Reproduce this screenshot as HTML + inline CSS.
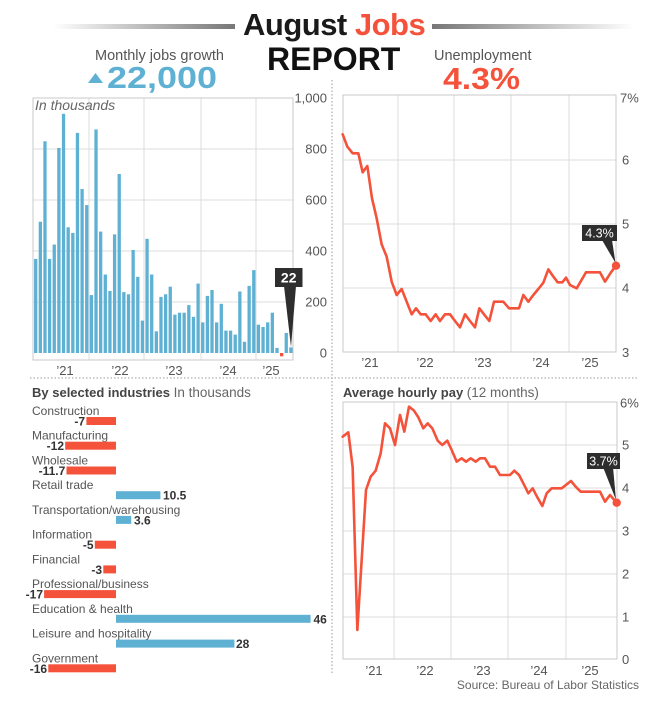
<!DOCTYPE html>
<html>
<head>
<meta charset="utf-8">
<style>
  html,body{margin:0;padding:0;background:#fff;}
  svg{display:block;font-family:"Liberation Sans", Arial, sans-serif;}
  .tick{font-size:13px;fill:#555;}
  .ind{font-size:12px;fill:#555;}
  .val{font-size:12px;fill:#333;font-weight:bold;}
</style>
</head>
<body>
<svg width="647" height="705" viewBox="0 0 647 705" xmlns="http://www.w3.org/2000/svg">
  <defs>
    <linearGradient id="gl" x1="0" x2="1" y1="0" y2="0">
      <stop offset="0" stop-color="#ffffff"/>
      <stop offset="1" stop-color="#777777"/>
    </linearGradient>
    <linearGradient id="gr" x1="0" x2="1" y1="0" y2="0">
      <stop offset="0" stop-color="#777777"/>
      <stop offset="1" stop-color="#ffffff"/>
    </linearGradient>
  </defs>
  <rect x="0" y="0" width="647" height="705" fill="#fff"/>

  <!-- Header -->
  <rect x="53" y="24" width="182" height="5" fill="url(#gl)"/>
  <rect x="432" y="24" width="202" height="5" fill="url(#gr)"/>
  <text x="243" y="35" font-size="31" font-weight="bold" fill="#1a1a1a" letter-spacing="-0.5">August <tspan fill="#f4523b">Jobs</tspan></text>
  <text x="267" y="70" font-size="32" font-weight="bold" fill="#111">REPORT</text>
  <text x="95" y="60" font-size="14.5" fill="#555">Monthly jobs growth</text>
  <polygon points="88,83 103,83 95.5,73" fill="#5fb1d4"/>
  <text x="107" y="88" font-size="31" font-weight="bold" fill="#5fb1d4" textLength="110" lengthAdjust="spacingAndGlyphs">22,000</text>
  <text x="434" y="60" font-size="14.5" fill="#555">Unemployment</text>
  <text x="443" y="89" font-size="31" font-weight="bold" fill="#f4523b" textLength="77" lengthAdjust="spacingAndGlyphs">4.3%</text>

  <!-- Dotted separators -->
  <line x1="332" y1="80" x2="332" y2="675" stroke="#999" stroke-width="1" stroke-dasharray="1.5 2"/>
  <line x1="30" y1="378" x2="637" y2="378" stroke="#999" stroke-width="1" stroke-dasharray="1.5 2"/>

  <!-- ============ Bar chart (monthly jobs) ============ -->
  <g stroke="#dcdcdc" stroke-width="1">
    <line x1="33" y1="149" x2="293" y2="149"/>
    <line x1="33" y1="200" x2="293" y2="200"/>
    <line x1="33" y1="251" x2="293" y2="251"/>
    <line x1="33" y1="302" x2="293" y2="302"/>
    <line x1="89" y1="98" x2="89" y2="360"/>
    <line x1="144" y1="98" x2="144" y2="360"/>
    <line x1="201" y1="98" x2="201" y2="360"/>
    <line x1="256" y1="98" x2="256" y2="360"/>
  </g>
  <rect x="33" y="98" width="260" height="262" fill="none" stroke="#c8c8c8" stroke-width="1"/>
  <text x="35" y="110" font-size="14" font-style="italic" fill="#666">In thousands</text>
  <g fill="#5fb1d4">
    <rect x="34.05" y="258.9" width="3.3" height="94.1"/>
    <rect x="38.69" y="221.7" width="3.3" height="131.3"/>
    <rect x="43.33" y="141.3" width="3.3" height="211.7"/>
    <rect x="47.97" y="258.9" width="3.3" height="94.1"/>
    <rect x="52.61" y="244.6" width="3.3" height="108.4"/>
    <rect x="57.25" y="148.0" width="3.3" height="205.0"/>
    <rect x="61.89" y="113.8" width="3.3" height="239.2"/>
    <rect x="66.53" y="227.3" width="3.3" height="125.7"/>
    <rect x="71.17" y="232.9" width="3.3" height="120.1"/>
    <rect x="75.81" y="132.9" width="3.3" height="220.1"/>
    <rect x="80.45" y="189.0" width="3.3" height="164.0"/>
    <rect x="85.09" y="205.1" width="3.3" height="147.9"/>
    <rect x="89.73" y="295.1" width="3.3" height="57.9"/>
    <rect x="94.37" y="129.4" width="3.3" height="223.6"/>
    <rect x="99.01" y="231.6" width="3.3" height="121.4"/>
    <rect x="103.65" y="274.5" width="3.3" height="78.5"/>
    <rect x="108.29" y="291.0" width="3.3" height="62.0"/>
    <rect x="112.93" y="234.4" width="3.3" height="118.6"/>
    <rect x="117.57" y="174.0" width="3.3" height="179.0"/>
    <rect x="122.21" y="292.1" width="3.3" height="60.9"/>
    <rect x="126.85" y="294.3" width="3.3" height="58.7"/>
    <rect x="131.49" y="250.0" width="3.3" height="103.0"/>
    <rect x="136.13" y="276.8" width="3.3" height="76.2"/>
    <rect x="140.77" y="320.6" width="3.3" height="32.4"/>
    <rect x="145.41" y="238.8" width="3.3" height="114.2"/>
    <rect x="150.05" y="274.5" width="3.3" height="78.5"/>
    <rect x="154.69" y="331.3" width="3.3" height="21.7"/>
    <rect x="159.33" y="296.9" width="3.3" height="56.1"/>
    <rect x="163.97" y="294.3" width="3.3" height="58.7"/>
    <rect x="168.61" y="286.7" width="3.3" height="66.3"/>
    <rect x="173.25" y="314.7" width="3.3" height="38.3"/>
    <rect x="177.89" y="312.7" width="3.3" height="40.3"/>
    <rect x="182.53" y="312.7" width="3.3" height="40.3"/>
    <rect x="187.17" y="305.1" width="3.3" height="47.9"/>
    <rect x="191.81" y="316.8" width="3.3" height="36.2"/>
    <rect x="196.45" y="283.6" width="3.3" height="69.4"/>
    <rect x="201.09" y="322.4" width="3.3" height="30.6"/>
    <rect x="205.73" y="295.9" width="3.3" height="57.1"/>
    <rect x="210.37" y="290.0" width="3.3" height="63.0"/>
    <rect x="215.01" y="322.4" width="3.3" height="30.6"/>
    <rect x="219.65" y="303.8" width="3.3" height="49.2"/>
    <rect x="224.29" y="330.6" width="3.3" height="22.4"/>
    <rect x="228.93" y="330.6" width="3.3" height="22.4"/>
    <rect x="233.57" y="334.6" width="3.3" height="18.4"/>
    <rect x="238.21" y="291.5" width="3.3" height="61.5"/>
    <rect x="242.85" y="341.8" width="3.3" height="11.2"/>
    <rect x="247.49" y="285.9" width="3.3" height="67.1"/>
    <rect x="252.13" y="270.1" width="3.3" height="82.9"/>
    <rect x="256.77" y="324.7" width="3.3" height="28.3"/>
    <rect x="261.41" y="327.0" width="3.3" height="26.0"/>
    <rect x="266.05" y="322.4" width="3.3" height="30.6"/>
    <rect x="270.69" y="312.7" width="3.3" height="40.3"/>
    <rect x="275.33" y="347.9" width="3.3" height="5.1"/>
    <rect x="284.61" y="332.9" width="3.3" height="20.1"/>
    <rect x="289.25" y="347.4" width="3.3" height="5.6"/>
  </g>
  <rect x="279.97" y="353" width="3.3" height="3.3" fill="#f4523b"/>
  <!-- callout 22 -->
  <polygon points="284,286 296,286 291,347" fill="#2e2e2e"/>
  <rect x="275" y="268" width="27.5" height="19" fill="#2e2e2e"/>
  <text x="288.7" y="282.5" font-size="14" font-weight="bold" fill="#fff" text-anchor="middle">22</text>
  <!-- y labels -->
  <g class="tick" text-anchor="end">
    <text x="327" y="102.5">1,000</text>
    <text x="327" y="153.5">800</text>
    <text x="327" y="204.5">600</text>
    <text x="327" y="255.5">400</text>
    <text x="327" y="306.5">200</text>
    <text x="327" y="357.5">0</text>
  </g>
  <g class="tick" text-anchor="middle">
    <text x="65" y="375">’21</text>
    <text x="120" y="375">’22</text>
    <text x="174" y="375">’23</text>
    <text x="228" y="375">’24</text>
    <text x="271" y="375">’25</text>
  </g>

  <!-- ============ Unemployment chart ============ -->
  <g stroke="#dcdcdc" stroke-width="1">
    <line x1="343" y1="160" x2="616" y2="160"/>
    <line x1="343" y1="224" x2="616" y2="224"/>
    <line x1="343" y1="288" x2="616" y2="288"/>
    <line x1="398" y1="95" x2="398" y2="352"/>
    <line x1="454" y1="95" x2="454" y2="352"/>
    <line x1="511" y1="95" x2="511" y2="352"/>
    <line x1="569" y1="95" x2="569" y2="352"/>
  </g>
  <rect x="343" y="95" width="273" height="257" fill="none" stroke="#c8c8c8" stroke-width="1"/>
  <g transform="translate(330 85) scale(0.333333)">
    <polyline fill="none" stroke="#f4523b" stroke-width="2.6" vector-effect="non-scaling-stroke" stroke-linejoin="round" stroke-linecap="round"
      points="38,148 52,185 68,205 85,205 98,262 112,243 126,340 140,400 155,478 170,515 185,590 200,630 215,612 230,650 245,688 258,670 272,688 287,688 302,708 317,688 330,708 345,688 360,688 375,708 390,727 405,688 420,708 435,727 448,670 462,688 478,708 492,650 520,650 537,670 567,670 580,630 595,650 610,630 625,612 640,593 655,553 668,572 683,592 697,592 708,578 720,600 740,610 768,562 810,562 825,590 843,562 858,542"/>
  </g>
  <polygon points="602,240 612,240 615.5,263" fill="#2e2e2e"/>
  <rect x="582" y="225" width="35" height="16" fill="#2e2e2e"/>
  <text x="599.5" y="237.5" font-size="12.5" fill="#fff" text-anchor="middle">4.3%</text>
  <circle cx="616" cy="265.7" r="4.2" fill="#f4523b"/>
  <g class="tick">
    <text x="620" y="102.5">7%</text>
    <text x="622" y="164.5">6</text>
    <text x="622" y="228.5">5</text>
    <text x="622" y="292.5">4</text>
    <text x="622" y="357">3</text>
  </g>
  <g class="tick" text-anchor="middle">
    <text x="370" y="367">’21</text>
    <text x="425" y="367">’22</text>
    <text x="483" y="367">’23</text>
    <text x="541" y="367">’24</text>
    <text x="590" y="367">’25</text>
  </g>

  <!-- ============ Industries ============ -->
  <text x="32" y="397" font-size="13" font-weight="bold" fill="#444">By selected industries <tspan font-weight="normal" fill="#666" font-size="13.5">In thousands</tspan></text>
  <g class="ind">
    <text x="32" y="415">Construction</text>
    <text x="32" y="439.7">Manufacturing</text>
    <text x="32" y="464.5">Wholesale</text>
    <text x="32" y="489.2">Retail trade</text>
    <text x="32" y="513.9">Transportation/warehousing</text>
    <text x="32" y="538.7">Information</text>
    <text x="32" y="563.4">Financial</text>
    <text x="32" y="588.1">Professional/business</text>
    <text x="32" y="612.8">Education &amp; health</text>
    <text x="32" y="637.6">Leisure and hospitality</text>
    <text x="32" y="662.3">Government</text>
  </g>
  <g fill="#f4523b">
    <rect x="86.4" y="417" width="29.6" height="8"/>
    <rect x="65.2" y="441.7" width="50.8" height="8"/>
    <rect x="66.5" y="466.5" width="49.5" height="8"/>
    <rect x="94.8" y="540.7" width="21.2" height="8"/>
    <rect x="103.3" y="565.4" width="12.7" height="8"/>
    <rect x="44.1" y="590.1" width="71.9" height="8"/>
    <rect x="48.3" y="664.3" width="67.7" height="8"/>
  </g>
  <g fill="#5fb1d4">
    <rect x="116" y="491.2" width="44.4" height="8"/>
    <rect x="116" y="515.9" width="15.2" height="8"/>
    <rect x="116" y="614.8" width="194.6" height="8"/>
    <rect x="116" y="639.6" width="118.4" height="8"/>
  </g>
  <g class="val" text-anchor="end">
    <text x="85" y="425.5">-7</text>
    <text x="64" y="450.2">-12</text>
    <text x="65.3" y="475">-11.7</text>
    <text x="93.6" y="549.2">-5</text>
    <text x="102.1" y="573.9">-3</text>
    <text x="43" y="598.6">-17</text>
    <text x="47.1" y="672.8">-16</text>
  </g>
  <g class="val">
    <text x="163" y="499.7">10.5</text>
    <text x="134" y="524.4">3.6</text>
    <text x="313.5" y="623.3">46</text>
    <text x="236" y="648.1">28</text>
  </g>

  <!-- ============ Average hourly pay ============ -->
  <text x="343" y="397" font-size="13" font-weight="bold" fill="#444">Average hourly pay <tspan font-weight="normal" fill="#666" font-size="13.5">(12 months)</tspan></text>
  <g stroke="#dcdcdc" stroke-width="1">
    <line x1="343" y1="445" x2="617" y2="445"/>
    <line x1="343" y1="488" x2="617" y2="488"/>
    <line x1="343" y1="531" x2="617" y2="531"/>
    <line x1="343" y1="574" x2="617" y2="574"/>
    <line x1="343" y1="617" x2="617" y2="617"/>
    <line x1="394" y1="402" x2="394" y2="659"/>
    <line x1="451" y1="402" x2="451" y2="659"/>
    <line x1="508" y1="402" x2="508" y2="659"/>
    <line x1="566" y1="402" x2="566" y2="659"/>
  </g>
  <rect x="343" y="402" width="274" height="257" fill="none" stroke="#c8c8c8" stroke-width="1"/>
  <g transform="translate(330 380) scale(0.333333)">
    <polyline fill="none" stroke="#f4523b" stroke-width="2.6" vector-effect="non-scaling-stroke" stroke-linejoin="round" stroke-linecap="round"
      points="38,170 55,157 68,262 82,750 108,330 122,290 137,272 152,220 165,130 180,145 195,195 210,105 223,155 237,80 252,92 265,112 280,145 293,130 307,145 323,182 337,195 352,182 365,210 380,245 395,235 408,245 422,235 437,245 450,235 465,235 480,260 495,260 510,285 540,285 553,272 567,285 580,310 595,340 608,325 622,352 637,378 650,340 665,325 695,325 723,303 737,320 752,335 810,335 825,365 840,345 860,368"/>
  </g>
  <polygon points="603,467 613,467 616,500" fill="#2e2e2e"/>
  <rect x="587" y="453" width="33" height="16" fill="#2e2e2e"/>
  <text x="603.5" y="465.5" font-size="12.5" fill="#fff" text-anchor="middle">3.7%</text>
  <circle cx="616.7" cy="502.7" r="4.2" fill="#f4523b"/>
  <g class="tick">
    <text x="620" y="407.5">6%</text>
    <text x="622" y="449.5">5</text>
    <text x="622" y="492.5">4</text>
    <text x="622" y="535.5">3</text>
    <text x="622" y="578.5">2</text>
    <text x="622" y="621.5">1</text>
    <text x="622" y="664">0</text>
  </g>
  <g class="tick" text-anchor="middle">
    <text x="374" y="675">’21</text>
    <text x="425" y="675">’22</text>
    <text x="482" y="675">’23</text>
    <text x="539" y="675">’24</text>
    <text x="590" y="675">’25</text>
  </g>
  <text x="639" y="689" font-size="12" fill="#666" text-anchor="end">Source: Bureau of Labor Statistics</text>
</svg>
</body>
</html>
